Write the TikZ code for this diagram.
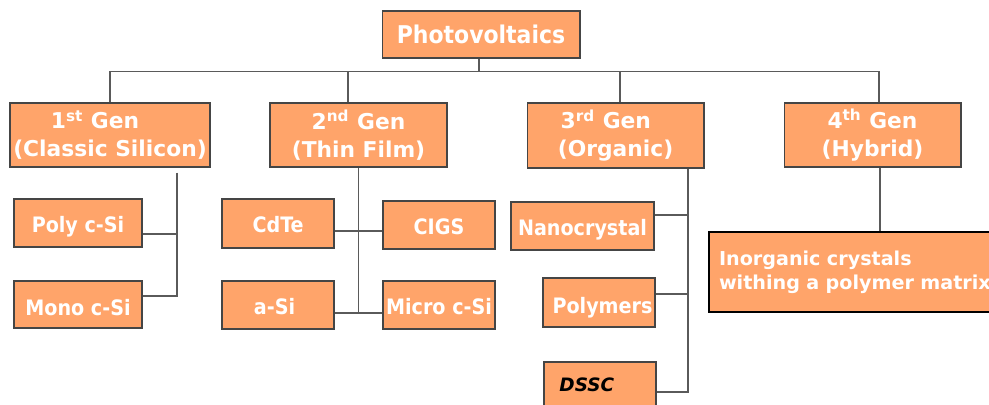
\documentclass[tikz,border=0pt]{standalone}
\usepackage{fontspec}
\setmainfont{DejaVu Sans}
\newfontfamily\pvcond{DejaVu Sans Condensed}
\usepackage{tikz}
\usetikzlibrary{calc}
\usepackage{xcolor}
\definecolor{pvorange}{HTML}{FFA46A}
\definecolor{pvedge}{HTML}{454545}
\definecolor{pvline}{HTML}{5A5A5A}
\tikzstyle{block} = [rectangle, draw=pvedge, line width=0.6pt, fill=pvorange, text=white, align=center, inner sep=0pt, font=\bfseries\fontsize{12.4}{16}\selectfont]
\tikzstyle{genblock} = [block, minimum width=3.54cm, minimum height=1.28cm]
\tikzstyle{leaf} = [block, minimum width=2.24cm, minimum height=0.96cm, text height=10.8pt, text depth=0pt, font=\pvcond\bfseries\fontsize{12.1}{14}\selectfont]

\tikzstyle{link} = [draw=pvline, line width=0.6pt]

\begin{document}
\begin{tikzpicture}[x=0.02cm, y=-0.02cm]
  \useasboundingbox (0,0) rectangle (989,405);
  \clip (0,0) rectangle (989,405);

  % root and generations
  \node[block, minimum width=3.96cm, minimum height=0.94cm, font=\pvcond\bfseries\fontsize{13.9}{16}\selectfont] (pv) at (481,34.5) {Photovoltaics};
  \node[genblock, minimum width=4cm] (gen1) at (110,135) {1\textsuperscript{st} Gen\hspace*{17pt}\\(Classic Silicon)};
  \node[genblock] (gen2) at (358.5,135) {2\textsuperscript{nd} Gen\\(Thin Film)};
  \node[genblock, minimum height=1.3cm] (gen3) at (615.5,135.5) {3\textsuperscript{rd} Gen\hspace*{11pt}\\(Organic)};
  \node[genblock] (gen4) at (872.5,135) {4\textsuperscript{th} Gen\\(Hybrid)};

  % 1st gen
  \node[leaf, minimum width=2.56cm] (poly) at (78,223) {Poly c-Si};
  \node[leaf, minimum width=2.56cm, minimum height=0.94cm, text height=12pt] (mono) at (78,304.5) {Mono c-Si};

  % 2nd gen
  \node[leaf, minimum height=0.98cm] (cdte) at (278,223.5) {CdTe};
  \node[leaf] (asi) at (278,305) {a-Si\hspace*{4pt}};
  \node[leaf] (cigs) at (439,225) {CIGS};
  \node[leaf] (micro) at (439,305) {Micro c-Si};

  % 3rd gen
  \node[leaf, minimum width=2.86cm] (nano) at (582.5,226) {Nanocrystal};
  \node[leaf, minimum height=0.98cm, text height=12pt] (polym) at (599,302.5) {\hspace*{4pt}Polymers};
  \node[leaf, text height=6.4pt, text=black, font=\bfseries\itshape\fontsize{10.5}{14}\selectfont] (dssc) at (600,386) {DSSC\hspace*{15pt}};

  % 4th gen
  \node[block, draw=black, line width=1pt, minimum width=6.22cm, minimum height=1.6cm, text width=5.82cm, align=left, font=\bfseries\fontsize{10.9}{13.6}\selectfont] (inorg) at (864.5,272) {Inorganic crystals\\withing a polymer matrix};

  % bus from the root
  \coordinate (bus) at ([shift={(-0.04cm,-0.26cm)}]pv.south);
  \draw[link] ([xshift=-0.04cm]pv.south) -- (bus);
  \draw[link] (gen1.north) |- (bus) -| ([xshift=0.13cm]gen4.north);
  \draw[link] ([xshift=-0.21cm]gen2.north) |- (bus);
  \draw[link] ([xshift=0.09cm]gen3.north) |- (bus);

  % 1st gen branches
  \coordinate (spine1) at ([shift={(1.34cm,-0.1cm)}]gen1.south);
  \coordinate (polyj) at ([yshift=-0.22cm]poly.east);
  \draw[link] (spine1) |- ([yshift=0.17cm]mono.east);
  \draw[link] (polyj) -- (spine1 |- polyj);

  % 2nd gen branches
  \coordinate (cdtej) at ([yshift=-0.15cm]cdte.east);
  \coordinate (asij) at ([yshift=-0.16cm]asi.east);
  \draw[link] (gen2.south) -- (gen2.south |- asij);
  \draw[link] (cdtej) -- (cigs.west |- cdtej);
  \draw[link] (asij) -- (micro.west |- asij);

  % 3rd gen branches
  \coordinate (spine3) at ([xshift=1.45cm]gen3.south);
  \coordinate (nanoj) at ([yshift=0.22cm]nano.east);
  \coordinate (polymj) at ([yshift=0.17cm]polym.east);
  \draw[link] (spine3) |- ([yshift=-0.12cm]dssc.east);
  \draw[link] (nanoj) -- (spine3 |- nanoj);
  \draw[link] (polymj) -- (spine3 |- polymj);

  % 4th gen branch
  \draw[link] ([xshift=0.15cm]gen4.south) -- ([xshift=0.15cm]gen4.south |- inorg.north);
\end{tikzpicture}
\end{document}
